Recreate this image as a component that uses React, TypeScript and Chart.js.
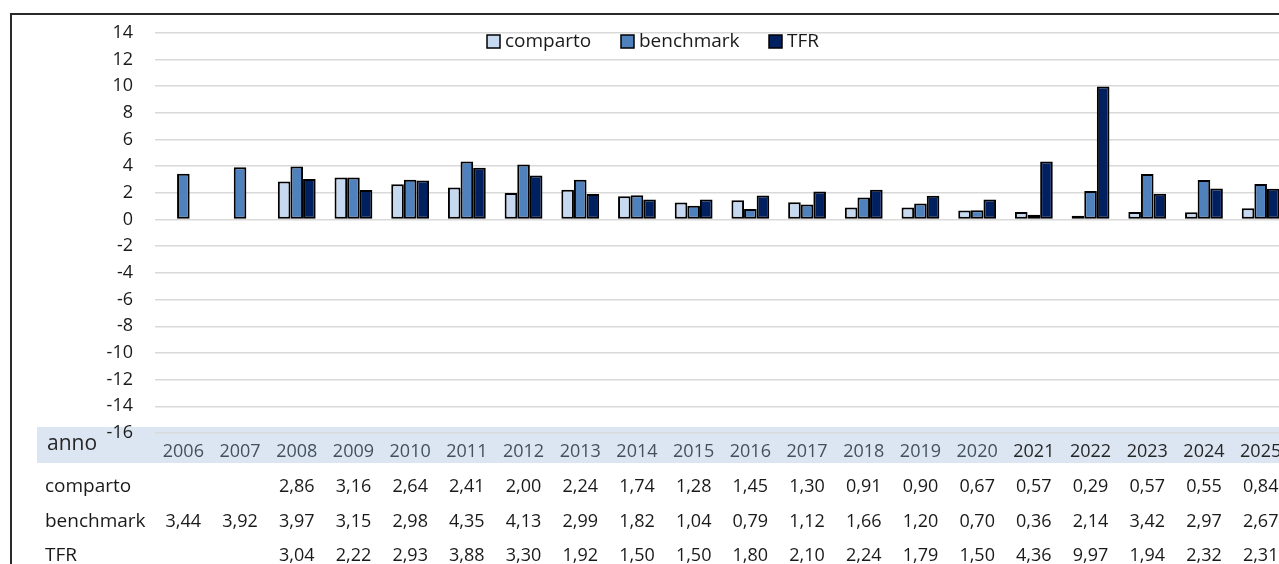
import React, { useEffect, useRef } from "react";
import { Chart, registerables } from "chart.js";

Chart.register(...registerables);

const years = ["2006", "2007", "2008", "2009", "2010", "2011", "2012", "2013", "2014", "2015", "2016", "2017", "2018", "2019", "2020", "2021", "2022", "2023", "2024", "2025"];
const comparto = [null, null, 2.86, 3.16, 2.64, 2.41, 2.0, 2.24, 1.74, 1.28, 1.45, 1.3, 0.91, 0.9, 0.67, 0.57, 0.29, 0.57, 0.55, 0.84];
const benchmark = [3.44, 3.92, 3.97, 3.15, 2.98, 4.35, 4.13, 2.99, 1.82, 1.04, 0.79, 1.12, 1.66, 1.2, 0.7, 0.36, 2.14, 3.42, 2.97, 2.67];
const tfr = [null, null, 3.04, 2.22, 2.93, 3.88, 3.3, 1.92, 1.5, 1.5, 1.8, 2.1, 2.24, 1.79, 1.5, 4.36, 9.97, 1.94, 2.32, 2.31];
const seriesNames = ["comparto", "benchmark", "TFR"];
const seriesColors = ["#C6D9F1", "#4F81BD", "#002060"];
const yMin = -16;
const yMax = 14;
const yStep = 2;
const tableLabel = "anno";

const FONT = "'Open Sans'";
const NUM_FS = 18;
const LBL_FS = 19;

const fmt = (v: number | null) => (v === null || v === undefined ? "" : v.toFixed(2).replace(".", ","));

const tablePlugin = {
  id: "tablePlugin",
  beforeDraw(chart: any) {
    const ctx = chart.ctx;
    ctx.save();
    ctx.fillStyle = "#ffffff";
    ctx.fillRect(0, 0, chart.width, chart.height);
    ctx.fillStyle = "#DCE6F2";
    ctx.fillRect(37, 427, chart.width - 37, 36);
    ctx.restore();
  },
  afterDraw(chart: any) {
    const ctx = chart.ctx;
    const xs = chart.scales.x;
    ctx.save();
    ctx.textBaseline = "alphabetic";
    ctx.textAlign = "left";
    ctx.fillStyle = "#262626";
    ctx.font = `21px ${FONT}`;
    ctx.fillText(tableLabel, 47, 450);
    ctx.font = `${NUM_FS}px ${FONT}`;
    years.forEach((y, i) => {
      ctx.textAlign = "center";
      ctx.fillStyle = i >= 15 ? "#262626" : "#44505E";
      ctx.fillText(y, xs.getPixelForValue(i), 457);
    });
    const rowBase = [491.5, 526.5, 561];
    chart.data.datasets.forEach((ds: any, r: number) => {
      ctx.font = `${LBL_FS}px ${FONT}`;
      ctx.textAlign = "left";
      ctx.fillStyle = "#1a1a1a";
      ctx.fillText(ds.label, 45, rowBase[r]);
      ctx.font = `${NUM_FS}px ${FONT}`;
      ctx.textAlign = "center";
      ds.data.forEach((v: number | null, i: number) => {
        const t = fmt(v);
        if (t) ctx.fillText(t, xs.getPixelForValue(i), rowBase[r]);
      });
    });
    // legend
    const legendBox = [487, 621, 769];
    ctx.font = `${LBL_FS}px ${FONT}`;
    chart.data.datasets.forEach((ds: any, r: number) => {
      const bx = legendBox[r];
      ctx.fillStyle = ds.backgroundColor;
      ctx.fillRect(bx, 35, 13, 13);
      ctx.lineWidth = 1.5;
      ctx.strokeStyle = "#000";
      ctx.strokeRect(bx, 35, 13, 13);
      ctx.fillStyle = "#1a1a1a";
      ctx.textAlign = "left";
      ctx.fillText(ds.label, bx + 18, 47);
    });
    // frame
    ctx.strokeStyle = "#2a2a2a";
    ctx.lineWidth = 2;
    ctx.beginPath();
    ctx.moveTo(11, chart.height);
    ctx.lineTo(11, 14);
    ctx.lineTo(chart.width, 14);
    ctx.stroke();
    ctx.restore();
  },
};

export default function App() {
  const ref = useRef<HTMLCanvasElement | null>(null);
  useEffect(() => {
    if (!ref.current) return;
    const data = [comparto, benchmark, tfr];
    const chart = new Chart(ref.current, {
      type: "bar",
      data: {
        labels: years,
        datasets: seriesNames.map((n, i) => ({
          label: n,
          data: data[i] as any,
          backgroundColor: seriesColors[i],
          borderColor: "#000000",
          borderWidth: 2,
          borderSkipped: false,
          categoryPercentage: 0.667,
          barPercentage: 1.0,
        })),
      },
      options: {
        responsive: false,
        animation: false,
        devicePixelRatio: 1,
        layout: { padding: { left: 0, right: 11, top: 28, bottom: 131 } },
        plugins: { legend: { display: false }, tooltip: { enabled: false }, title: { display: false } },
        scales: {
          x: { display: false },
          y: {
            min: yMin,
            max: yMax,
            afterFit: (s: any) => {
              s.width = 155;
            },
            border: { display: false },
            grid: { color: "#D9D9D9", lineWidth: 1.5, drawTicks: false },
            ticks: {
              stepSize: yStep,
              padding: 22,
              color: "#1a1a1a",
              font: { family: "Open Sans", size: NUM_FS },
            },
          },
        },
      },
      plugins: [tablePlugin],
    });
    return () => chart.destroy();
  }, []);
  return (
    <div style={{ position: "fixed", left: 0, top: 0, width: 1279, height: 564, overflow: "hidden", background: "#fff" }}>
      <canvas ref={ref} width={1300} height={564} style={{ width: 1300, height: 564, display: "block" }} />
    </div>
  );
}
